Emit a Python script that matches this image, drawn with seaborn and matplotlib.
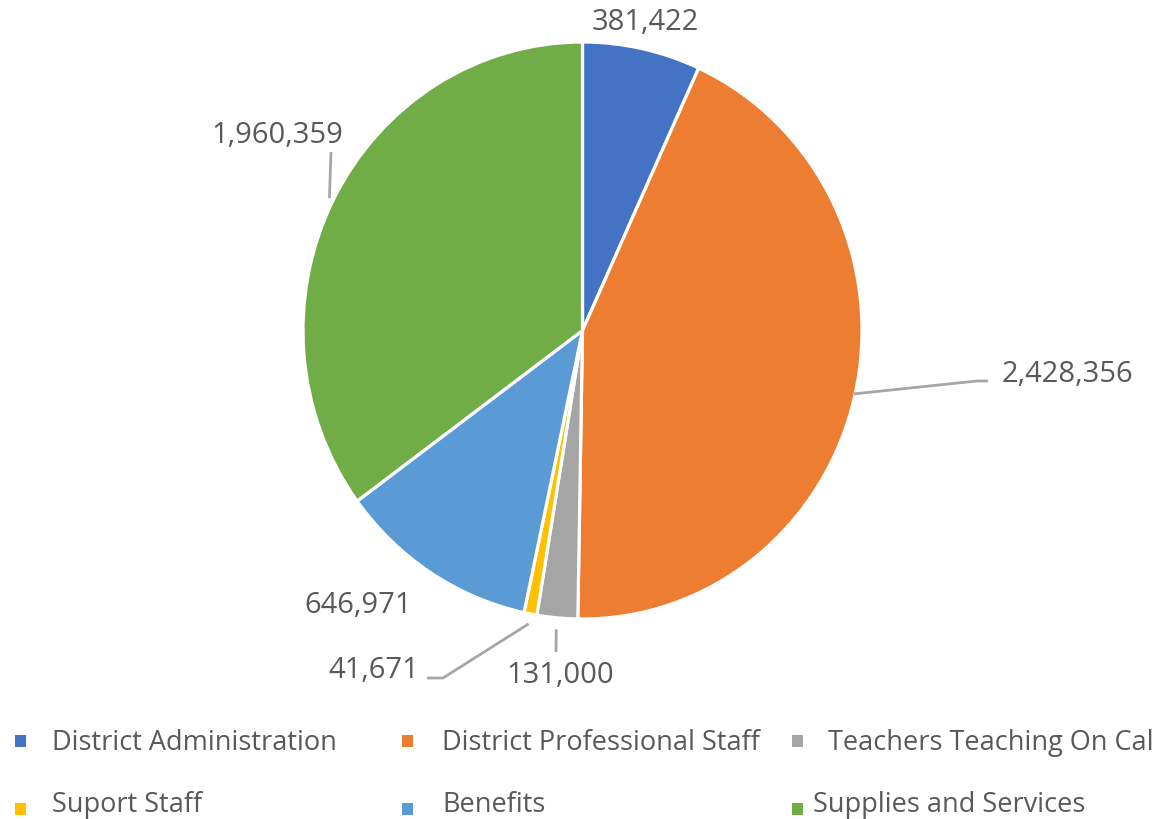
import matplotlib
matplotlib.use("Agg")
import math
import matplotlib.pyplot as plt
from matplotlib.patches import Rectangle
import seaborn as sns

# ---- data ----
categories = ["District Administration", "District Professional Staff",
              "Teachers Teaching On Call", "Suport Staff", "Benefits",
              "Supplies and Services"]
values = [381422, 2428356, 131000, 41671, 646971, 1960359]
value_labels = ["381,422", "2,428,356", "131,000", "41,671", "646,971", "1,960,359"]
colors_hex = ["#4472C4", "#ED7D31", "#A5A5A5", "#FFC000", "#5B9BD5", "#70AD47"]

sns.set_theme(style="white")
plt.rcParams["font.family"] = ["Open Sans", "DejaVu Sans"]
palette = sns.color_palette(colors_hex)

W, H = 1156, 819
SY = 288.5 / 279.5          # slight vertical stretch seen in the reference
fig = plt.figure(figsize=(W / 100, H / 100), dpi=100)
ax = fig.add_axes([0, 0, 1, 1])

def Y(py):
    """pixel row (from top) -> data y"""
    return (H - py) / SY

cx, cy, R = 582.5, Y(330.5), 279.5
wedges, _ = ax.pie(values, colors=palette, startangle=90, counterclock=False,
                   center=(cx, cy), radius=R,
                   wedgeprops=dict(edgecolor="white", linewidth=2.3))
ax.set_xlim(0, W)
ax.set_ylim(0, H / SY)
ax.set_aspect("auto")
ax.axis("off")

txt_color = "#595959"
line_color = "#A6A6A6"

def mid_point(w, rf=1.0):
    a = math.radians((w.theta1 + w.theta2) / 2)
    return cx + R * rf * math.cos(a), cy + R * rf * math.sin(a)

# label layout (pixel positions of baseline, y from top)
label_pos = [(645, 30, "center"), (1002, 382, "left"), (560, 683, "center"),
             (419, 678, "right"), (358, 613, "center"), (277, 143, "center")]
for i, (lx, ly, ha) in enumerate(label_pos):
    ax.text(lx, Y(ly), value_labels[i], ha=ha, va="baseline",
            fontsize=21, color=txt_color)

def leader(i, pts, rf):
    sx, sy = mid_point(wedges[i], rf)
    xs = [sx] + [p[0] for p in pts]
    ys = [sy] + [Y(p[1]) for p in pts]
    ax.plot(xs, ys, color=line_color, lw=2.0, solid_capstyle="butt")

leader(1, [(977, 381), (988, 381)], 0.995)
leader(2, [(556, 652)], 1.04)
leader(3, [(443, 678), (427, 678)], 1.035)
leader(5, [(331, 152)], 1.015)

# legend (manual layout): marker x, marker center y, text x, text baseline y
leg_layout = [(15, 741, 52, 750), (402, 741, 442, 750), (792, 741, 828, 750),
              (15, 809, 52, 812), (402, 809, 442, 812), (792, 809, 813, 812)]
for i, (mx, my, tx, ty) in enumerate(leg_layout):
    fig.add_artist(Rectangle((mx / W, (H - my - 6) / H), 11 / W, 12 / H,
                             transform=fig.transFigure, color=palette[i], lw=0))
    fig.text(tx / W, (H - ty) / H, categories[i], ha="left", va="baseline",
             fontsize=19.5, color=txt_color)

fig.savefig("out.png", dpi=100)
